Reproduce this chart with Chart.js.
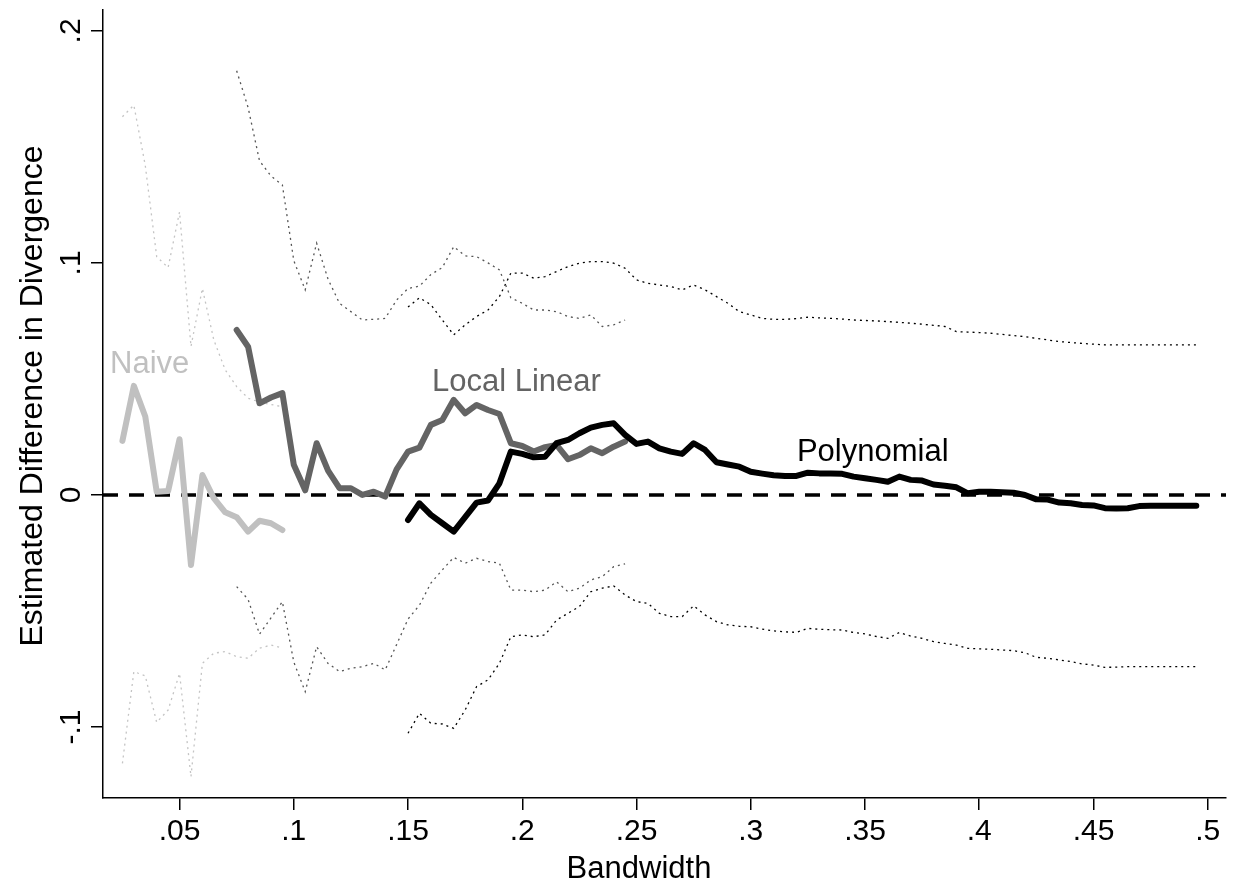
<!DOCTYPE html>
<html>
<head>
<meta charset="utf-8">
<script src="https://cdn.jsdelivr.net/npm/chart.js@4.4.0/dist/chart.umd.min.js"></script>
<style>
  html, body { margin: 0; padding: 0; background: #fff; }
  #wrap { width: 1233px; height: 892px; }
</style>
</head>
<body>
<div id="wrap"><canvas id="chart" width="1233" height="892"></canvas></div>
<script>
// bandwidth grid shared by all estimators
const bandwidth = [
    0.025, 0.03, 0.035, 0.04, 0.045, 0.05, 0.055, 0.06, 0.065, 0.07,
    0.075, 0.08, 0.085, 0.09, 0.095, 0.1, 0.105, 0.11, 0.115, 0.12,
    0.125, 0.13, 0.135, 0.14, 0.145, 0.15, 0.155, 0.16, 0.165, 0.17,
    0.175, 0.18, 0.185, 0.19, 0.195, 0.2, 0.205, 0.21, 0.215, 0.22,
    0.225, 0.23, 0.235, 0.24, 0.245, 0.25, 0.255, 0.26, 0.265, 0.27,
    0.275, 0.28, 0.285, 0.29, 0.295, 0.3, 0.305, 0.31, 0.315, 0.32,
    0.325, 0.33, 0.335, 0.34, 0.345, 0.35, 0.355, 0.36, 0.365, 0.37,
    0.375, 0.38, 0.385, 0.39, 0.395, 0.4, 0.405, 0.41, 0.415, 0.42,
    0.425, 0.43, 0.435, 0.44, 0.445, 0.45, 0.455, 0.46, 0.465, 0.47,
    0.475, 0.48, 0.485, 0.49, 0.495
];

// Naive: bandwidth .025 - .095
const naiveStart = 0;
const naiveEst = [0.0233, 0.047, 0.0338, 0.0014, 0.0017, 0.024, -0.0302, 0.0086, -0.0014, -0.0075,
    -0.0096, -0.0158, -0.0111, -0.0122, -0.0151];
const naiveHi = [0.163, 0.168, 0.142, 0.1027, 0.098, 0.122, 0.064, 0.089, 0.0668, 0.0539,
    0.0467, 0.0417, 0.040, 0.039, 0.038];
const naiveLo = [-0.1157, -0.0761, -0.078, -0.098, -0.0927, -0.0769, -0.1214, -0.0726, -0.0682, -0.0675,
    -0.0697, -0.0704, -0.066, -0.0647, -0.066];

// Local linear: bandwidth .075 - .245
const llStart = 10;
const llEst = [0.0711, 0.0639, 0.0395, 0.042, 0.0439, 0.013, 0.002, 0.0223, 0.0105, 0.0029,
    0.0029, 0.0, 0.0014, -0.0007, 0.011, 0.0187, 0.0204, 0.0302, 0.0323, 0.041,
    0.0352, 0.0388, 0.0366, 0.0349, 0.0223, 0.0211, 0.0187, 0.0206, 0.0216, 0.0154,
    0.0172, 0.0201, 0.018, 0.0208, 0.023];
const llHi = [0.1828, 0.167, 0.144, 0.1375, 0.1336, 0.101, 0.0884, 0.1085, 0.093, 0.0826,
    0.079, 0.0754, 0.0757, 0.0761, 0.084, 0.089, 0.090, 0.095, 0.098, 0.107,
    0.103, 0.1027, 0.1, 0.097, 0.085, 0.0826, 0.0797, 0.0797, 0.079, 0.0769,
    0.0761, 0.0776, 0.0726, 0.0733, 0.0754];
const llLo = [-0.0395, -0.045, -0.060, -0.053, -0.046, -0.072, -0.0848, -0.0654, -0.0726, -0.0761,
    -0.0747, -0.074, -0.0726, -0.0754, -0.0645, -0.0535, -0.0475, -0.038, -0.0323, -0.0269,
    -0.0294, -0.0273, -0.0287, -0.0294, -0.041, -0.041, -0.0417, -0.041, -0.0374, -0.0417,
    -0.0402, -0.0366, -0.0352, -0.0309, -0.0297];

// Polynomial: bandwidth .15 - .495
const polyStart = 25;
const polyEst = [-0.0108, -0.0036, -0.0086, -0.0122, -0.0158, -0.0096, -0.0033, -0.0024, 0.005, 0.0187,
    0.0177, 0.0162, 0.0165, 0.0223, 0.0237, 0.0266, 0.029, 0.0302, 0.0309, 0.0259,
    0.022, 0.023, 0.0201, 0.0187, 0.0177, 0.0223, 0.0194, 0.0141, 0.0131, 0.0122,
    0.01, 0.0092, 0.0085, 0.0082, 0.0082, 0.0096, 0.0093, 0.0093, 0.0091, 0.0079,
    0.0072, 0.0065, 0.0057, 0.0079, 0.0065, 0.0062, 0.0045, 0.004, 0.0033, 0.0007,
    0.0014, 0.0014, 0.0012, 0.001, 0.0, -0.0019, -0.002, -0.0033, -0.0036, -0.0043,
    -0.0045, -0.0057, -0.0058, -0.0057, -0.0048, -0.0047, -0.0047, -0.0047, -0.0047, -0.0047];
const polyHi = [0.081, 0.085, 0.082, 0.0754, 0.069, 0.0733, 0.0769, 0.0797, 0.0855, 0.0956,
    0.0956, 0.0934, 0.0941, 0.0963, 0.0984, 0.0999, 0.1006, 0.1006, 0.0999, 0.0977,
    0.0927, 0.0912, 0.0905, 0.0898, 0.0884, 0.0905, 0.0884, 0.0855, 0.0826, 0.079,
    0.0776, 0.0761, 0.0757, 0.0757, 0.076, 0.0766, 0.0763, 0.0761, 0.0758, 0.0754,
    0.0752, 0.075, 0.0747, 0.0744, 0.074, 0.0736, 0.0731, 0.0726, 0.0704, 0.0702,
    0.07, 0.0697, 0.0692, 0.0687, 0.0682, 0.0675, 0.0668, 0.0661, 0.0657, 0.0653,
    0.065, 0.0647, 0.0647, 0.0647, 0.0647, 0.0647, 0.0647, 0.0647, 0.0647, 0.0647];
const polyLo = [-0.1027, -0.0941, -0.0984, -0.0987, -0.1006, -0.0927, -0.0826, -0.0797, -0.0726, -0.0611,
    -0.0603, -0.0611, -0.0603, -0.0539, -0.051, -0.0481, -0.0417, -0.0402, -0.0392, -0.0431,
    -0.046, -0.0467, -0.051, -0.0524, -0.0524, -0.0478, -0.0517, -0.0546, -0.056, -0.0566,
    -0.0568, -0.0578, -0.0586, -0.059, -0.0592, -0.0575, -0.0579, -0.0581, -0.0582, -0.0593,
    -0.0599, -0.061, -0.0618, -0.0593, -0.0608, -0.0618, -0.0632, -0.064, -0.0647, -0.0661,
    -0.0663, -0.0665, -0.0668, -0.0671, -0.068, -0.07, -0.0704, -0.0711, -0.0718, -0.0728,
    -0.0733, -0.0743, -0.0742, -0.074, -0.074, -0.074, -0.074, -0.074, -0.074, -0.074];

const xTicks = [0.05, 0.1, 0.15, 0.2, 0.25, 0.3, 0.35, 0.4, 0.45, 0.5];
const yTicks = [-0.1, 0, 0.1, 0.2];
const xRange = [0.0165, 0.508];
const yRange = [-0.1306, 0.209];

// in-plot labels: [text, bandwidth, value, colour]
const curveLabels = [
    ['Naive', 0.0196, 0.0526, '#c0c0c0'],
    ['Local Linear', 0.1605, 0.0448, '#646464'],
    ['Polynomial', 0.3202, 0.0146, '#000000']
];

const FONT = '"Liberation Sans", Arial, Helvetica, sans-serif';
const NAIVE = '#c0c0c0';
const LL = '#646464';
const POLY = '#000000';

function pts(values, start) {
    return values.map((v, i) => ({ x: bandwidth[start + i], y: v }));
}

// Stata style labels: .05, -.1, 0
function fmt(v) {
    if (Math.abs(v) < 1e-9) return '0';
    let s = String(Math.round(v * 1000) / 1000);
    return s.replace(/^(-?)0\./, '$1.');
}

function solid(label, data, color, order) {
    return { label, data, borderColor: color, borderWidth: 6, pointRadius: 0,
        borderCapStyle: 'round', borderJoinStyle: 'round', tension: 0, order };
}
function dotted(label, data, color) {
    return { label, data, borderColor: color, borderWidth: 1.3, borderDash: [2, 4],
        pointRadius: 0, tension: 0, order: 10 };
}

// rotated y tick labels, axis titles and the curve labels
const textPlugin = {
    id: 'stataText',
    afterDraw(chart) {
        const ctx = chart.ctx;
        const xs = chart.scales.x, ys = chart.scales.y;
        ctx.save();
        ctx.fillStyle = '#000';
        ctx.font = '30px ' + FONT;
        ctx.textAlign = 'center';
        ctx.textBaseline = 'alphabetic';
        yTicks.forEach(v => {
            ctx.save();
            ctx.translate(80, ys.getPixelForValue(v));
            ctx.rotate(-Math.PI / 2);
            ctx.fillText(fmt(v), 0, 0);
            ctx.restore();
        });

        ctx.font = '32px ' + FONT;
        ctx.save();
        ctx.translate(42, 396);
        ctx.rotate(-Math.PI / 2);
        ctx.fillText('Estimated Difference in Divergence', 0, 0);
        ctx.restore();

        ctx.font = '31px ' + FONT;
        ctx.fillText('Bandwidth', 639, 878);

        ctx.textAlign = 'left';
        curveLabels.forEach(([t, x, y, c]) => {
            ctx.fillStyle = c;
            ctx.fillText(t, xs.getPixelForValue(x), ys.getPixelForValue(y));
        });
        ctx.restore();
    }
};

new Chart(document.getElementById('chart'), {
    type: 'line',
    data: {
        datasets: [
            dotted('Naive upper', pts(naiveHi, naiveStart), '#c4c4c4'),
            dotted('Naive lower', pts(naiveLo, naiveStart), '#c4c4c4'),
            dotted('LL upper', pts(llHi, llStart), '#555555'),
            dotted('LL lower', pts(llLo, llStart), '#555555'),
            dotted('Poly upper', pts(polyHi, polyStart), '#000000'),
            dotted('Poly lower', pts(polyLo, polyStart), '#000000'),
            { label: 'zero', data: [{ x: xRange[0], y: 0 }, { x: xRange[1], y: 0 }],
              borderColor: '#000', borderWidth: 3.5, borderDash: [15, 11], pointRadius: 0, order: 5 },
            solid('Naive', pts(naiveEst, naiveStart), NAIVE, 3),
            solid('Local Linear', pts(llEst, llStart), LL, 2),
            solid('Polynomial', pts(polyEst, polyStart), POLY, 1)
        ]
    },
    options: {
        responsive: false,
        devicePixelRatio: 1,
        animation: false,
        layout: { padding: { top: 10, right: 7, left: 0, bottom: 0 } },
        plugins: { legend: { display: false }, tooltip: { enabled: false } },
        scales: {
            x: {
                type: 'linear',
                min: xRange[0], max: xRange[1],
                afterBuildTicks: s => { s.ticks = xTicks.map(v => ({ value: v })); },
                afterFit: s => { s.height = 94; },
                grid: { display: true, drawOnChartArea: false, drawTicks: true, tickLength: 12,
                        color: '#000', lineWidth: 1.5 },
                border: { display: true, color: '#000', width: 1.5 },
                ticks: { color: '#000', font: { family: FONT, size: 30 }, padding: 4,
                         maxRotation: 0, autoSkip: false, callback: v => fmt(v) }
            },
            y: {
                type: 'linear',
                min: yRange[0], max: yRange[1],
                afterBuildTicks: s => { s.ticks = yTicks.map(v => ({ value: v })); },
                afterFit: s => { s.width = 103; },
                grid: { display: true, drawOnChartArea: false, drawTicks: true, tickLength: 12,
                        color: '#000', lineWidth: 1.5 },
                border: { display: true, color: '#000', width: 1.5 },
                ticks: { display: false }
            }
        }
    },
    plugins: [textPlugin]
});
</script>
</body>
</html>
